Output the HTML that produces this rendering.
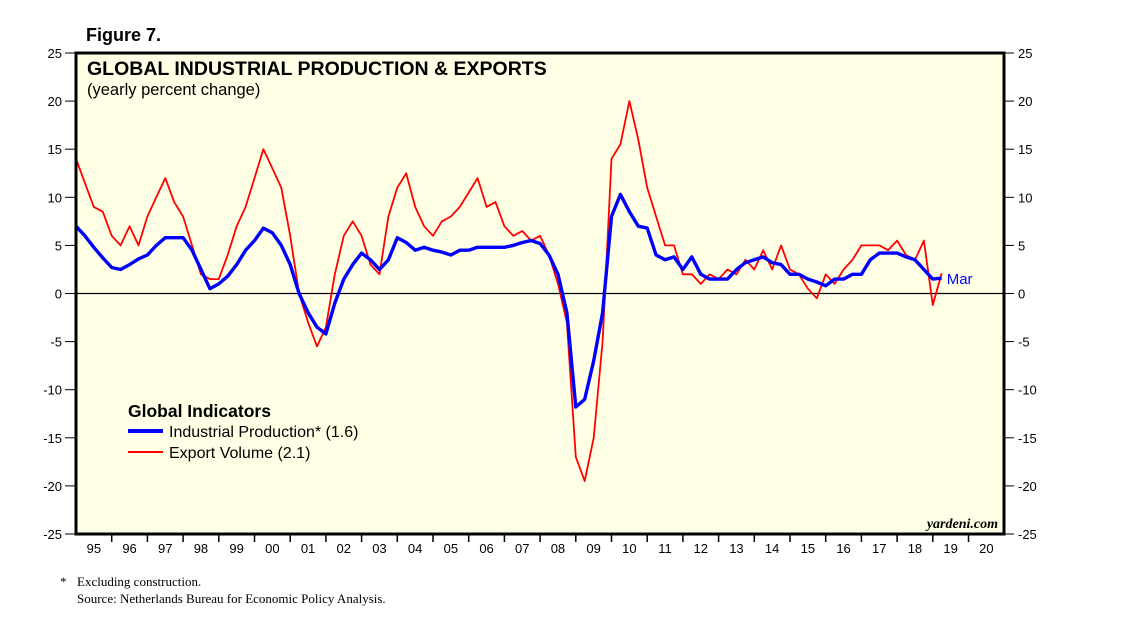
<!DOCTYPE html>
<html><head><meta charset="utf-8"><style>
body{margin:0;background:#fff;width:1138px;height:621px;overflow:hidden}
svg text{font-family:"Liberation Sans",sans-serif}
</style></head><body>
<svg id="c" width="1138" height="621">
<text x="86" y="41" font-size="18" font-weight="bold">Figure 7.</text>
<rect x="76" y="53" width="928" height="481" fill="#ffffe6"/>
<g id="grid"></g>
<g id="series"></g>
<rect x="76" y="53" width="928" height="481" fill="none" stroke="#000" stroke-width="3"/>
<text x="87" y="75" font-size="19.5" font-weight="bold">GLOBAL INDUSTRIAL PRODUCTION &amp; EXPORTS</text>
<text x="87" y="95" font-size="16.5">(yearly percent change)</text>
<g>
<text x="128" y="417" font-size="17.5" font-weight="bold">Global Indicators</text>
<line x1="128" y1="431" x2="163" y2="431" stroke="#0000ff" stroke-width="4"/>
<text x="169" y="437" font-size="16">Industrial Production* (1.6)</text>
<line x1="128" y1="452" x2="163" y2="452" stroke="#ff0000" stroke-width="2"/>
<text x="169" y="458" font-size="16">Export Volume (2.1)</text>
</g>
<text x="998" y="528" font-size="14" font-weight="bold" font-style="italic" text-anchor="end" style="font-family:'Liberation Serif',serif">yardeni.com</text>
<text x="60" y="586" font-size="13" style="font-family:'Liberation Serif',serif">*</text>
<text x="77" y="586" font-size="13" style="font-family:'Liberation Serif',serif">Excluding construction.</text>
<text x="77" y="603" font-size="13" style="font-family:'Liberation Serif',serif">Source: Netherlands Bureau for Economic Policy Analysis.</text>
</svg>
<script>
const yTicks=[25,20,15,10,5,0,-5,-10,-15,-20,-25];
const years=["95","96","97","98","99","00","01","02","03","04","05","06","07","08","09","10","11","12","13","14","15","16","17","18","19","20"];
const startYear=1995;
const ipValues=[7,6,4.8,3.7, 2.7,2.5,3,3.6, 4,5,5.8,5.8, 5.8,4.5,2.5,0.5, 1,1.8,3,4.5, 5.5,6.8,6.3,5, 3,0,-2,-3.5, -4.2,-1,1.5,3, 4.2,3.5,2.5,3.5, 5.8,5.3,4.5,4.8, 4.5,4.3,4,4.5, 4.5,4.8,4.8,4.8, 4.8,5,5.3,5.5, 5.2,4,2,-2, -11.8,-11,-7,-2, 8,10.3,8.5,7, 6.8,4,3.5,3.8, 2.5,3.8,2,1.5, 1.5,1.5,2.5,3.2, 3.5,3.8,3.2,3, 2,2,1.5,1.2, 0.8,1.5,1.5,2, 2,3.5,4.2,4.2, 4.2,3.8,3.5,2.5, 1.5,1.6];
const exportValues=[14,11.5,9,8.5, 6,5,7,5, 8,10,12,9.5, 8,5,2,1.5, 1.5,4,7,9, 12,15,13,11, 6,0,-3,-5.5, -3.5,2,6,7.5, 6,3,2,8, 11,12.5,9,7, 6,7.5,8,9, 10.5,12,9,9.5, 7,6,6.5,5.5, 6,4,1,-3, -17,-19.5,-15,-5, 14,15.5,20,16, 11,8,5,5, 2,2,1,2, 1.5,2.5,2,3.5, 2.5,4.5,2.5,5, 2.5,2,0.5,-0.5, 2,1,2.5,3.5, 5,5,5,4.5, 5.5,4,3.5,5.5, -1.2,2.1];
const L=76,R=1004,T=53,B=534,yrW=35.7;
const X=t=>L+(t-startYear)*yrW;
const Y=v=>T+(25-v)/50*(B-T);
const NS="http://www.w3.org/2000/svg";
const svg=document.getElementById('c'),grid=document.getElementById('grid'),ser=document.getElementById('series');
function mk(tag,attrs,parent){const e=document.createElementNS(NS,tag);for(const k in attrs)e.setAttribute(k,attrs[k]);parent.appendChild(e);return e;}
yTicks.forEach(v=>{
  const y=Y(v);
  let l=mk('line',{x1:65,x2:L,y1:y,y2:y,stroke:'#000'},svg);
  
  
  l=mk('line',{x1:R,x2:R+10,y1:y,y2:y,stroke:'#000'},svg);
  
  
  let t=mk('text',{x:62,y:y+5,'font-size':13,'text-anchor':'end'},svg);t.textContent=v;
  
  
  t=mk('text',{x:1018,y:y+5,'font-size':13},svg);t.textContent=v;
  
  
});
const z=mk('line',{x1:L,x2:R,y1:Y(0),y2:Y(0),stroke:'#000','stroke-width':1.2},grid);


years.forEach((lab,i)=>{
  const x=X(startYear+i);
  if(i>0){const tk=mk('line',{x1:x,x2:x,y1:B,y2:B+8,stroke:'#000','stroke-width':1.5},svg);
  
  }
  const t=mk('text',{x:x+yrW/2,y:B+19,'font-size':13,'text-anchor':'middle'},svg);t.textContent=lab;
  
  
});
function line(vals,color,w,name){
  const pts=vals.map((v,i)=>X(startYear+i*0.25).toFixed(1)+','+Y(v).toFixed(1)).join(' ');
  const p=mk('polyline',{points:pts,fill:'none',stroke:color,'stroke-width':w,'stroke-linejoin':'round'},ser);
  
  
}
line(exportValues,'#ff0000',1.8,'export-volume-line');
line(ipValues,'#0000ff',3.4,'industrial-production-line');
const last=ipValues.length-1;
const m=mk('text',{x:X(startYear+last*0.25)+5,y:Y(ipValues[last])+6,'font-size':15,fill:'#0000ff'},ser);m.textContent='Mar';


</script>
</body></html>
